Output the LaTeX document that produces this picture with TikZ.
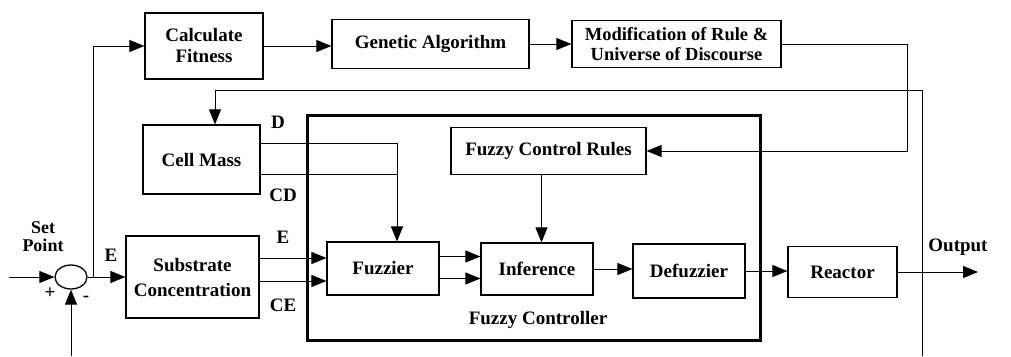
\documentclass[tikz,border=0pt]{standalone}
\usepackage{fontspec}
\setmainfont{Liberation Serif}
\usetikzlibrary{arrows.meta,shapes.geometric}
\begin{document}
\begin{tikzpicture}[x=1pt,y=-1pt,
  every node/.style={font=\bfseries\fontsize{19}{21}\selectfont},
  blk/.style={draw,line width=1.2pt,inner sep=0pt,align=center},
  arr/.style={-{Triangle[length=15pt,width=12pt]}},
  ln/.style={line width=1pt},
  lbl/.style={inner sep=0pt}]
\useasboundingbox (0,0) rectangle (1011,356);
% boxes
\node[blk,minimum width=118pt,minimum height=66pt] (cf) at (204,46) {Calculate\\Fitness};
\node[blk,minimum width=197pt,minimum height=49pt] (ga) at (430.5,44) {Genetic Algorithm};
\node[blk,minimum width=209pt,minimum height=47pt,font=\bfseries\fontsize{18.5}{20}\selectfont] (mod) at (676.5,44) {Modification of Rule \&\\Universe of Discourse};
\node[blk,minimum width=117pt,minimum height=69pt] (cm) at (201.5,159.5) {Cell Mass};
\draw[line width=3pt] (307,115) rectangle (760,340);
\node[blk,minimum width=195pt,minimum height=47pt] (fcr) at (548.5,151) {Fuzzy Control Rules};
\node[blk,minimum width=133pt,minimum height=82pt,font=\bfseries\fontsize{19}{25}\selectfont] (sub) at (192.5,277) {Substrate\\Concentration};
\node[blk,minimum width=112pt,minimum height=53pt] (fuz) at (383,268.5) {Fuzzier};
\node[blk,minimum width=112pt,minimum height=52pt] (inf) at (537,269) {Inference};
\node[blk,minimum width=112pt,minimum height=54pt] (def) at (689,271) {Defuzzier};
\node[blk,minimum width=109pt,minimum height=51pt] (rea) at (842.5,272) {Reactor};
\node[draw,line width=1.3pt,ellipse,minimum width=32pt,minimum height=24pt,inner sep=0pt] (sum) at (71,277) {};
% labels
\node[lbl] (lD) at (278,122) {D};
\node[lbl] (lCD) at (283,195) {CD};
\node[lbl] (lE2) at (283,237) {E};
\node[lbl] (lCE) at (283,305) {CE};
\node[lbl] (lE1) at (111,255) {E};
\node[lbl,align=center,font=\bfseries\fontsize{18}{18}\selectfont] (lsp) at (43,237) {Set\\Point};
\node[lbl] (lplus) at (50,293) {+};
\node[lbl] (lminus) at (86,299) {-};
\node[lbl] (lout) at (958,247) {Output};
\node[lbl] (lfc) at (538,320) {Fuzzy Controller};
% coordinates
\coordinate (sp) at (9,277);
\coordinate (bot) at (71,356);
\coordinate (jn) at (93,277);
\coordinate (r1) at (907,44);
\coordinate (bR) at (922,356);
\coordinate (tL) at (215,90);
\coordinate (dj) at (397,143);
\coordinate (cdj) at (397,174);
\coordinate (out) at (978,272);
% connectors
\draw[ln,arr] (sp) -- (sum.west);
\draw[ln,arr] (bot) -- (sum.south);
\draw[ln,arr] (sum.east) -- (sub.west);
\draw[ln,arr] (jn) |- (cf.west);
\draw[ln,arr] (cf.east) -- (ga.west |- cf.east);
\draw[ln,arr] (ga.east) -- (mod.west);
\draw[ln,arr] (mod.east) -- (r1) |- (fcr.east);
\draw[ln,arr] (bR) |- (tL) -- (tL |- cm.north);
\draw[ln] (cm.east |- dj) -- (dj);
\draw[ln] (cm.east |- cdj) -- (cdj) -- (dj);
\draw[ln,arr] (dj) -- (dj |- fuz.north);
\draw[ln,arr] ([yshift=19pt]sub.east) -- ([yshift=19pt]sub.east -| fuz.west);
\draw[ln,arr] ([yshift=-4pt]sub.east) -- ([yshift=-4pt]sub.east -| fuz.west);
\draw[ln,arr] ([yshift=12pt]fuz.east) -- ([yshift=12pt]fuz.east -| inf.west);
\draw[ln,arr] ([yshift=-10pt]fuz.east) -- ([yshift=-10pt]fuz.east -| inf.west);
\draw[ln,arr] ([xshift=-7pt]fcr.south) -- ([xshift=-7pt]fcr.south |- inf.north);
\draw[ln,arr] (inf.east) -- (inf.east -| def.west);
\draw[ln,arr] (def.east) -- (def.east -| rea.west);
\draw[ln,arr] (rea.east) -- (out);
\end{tikzpicture}
\end{document}
